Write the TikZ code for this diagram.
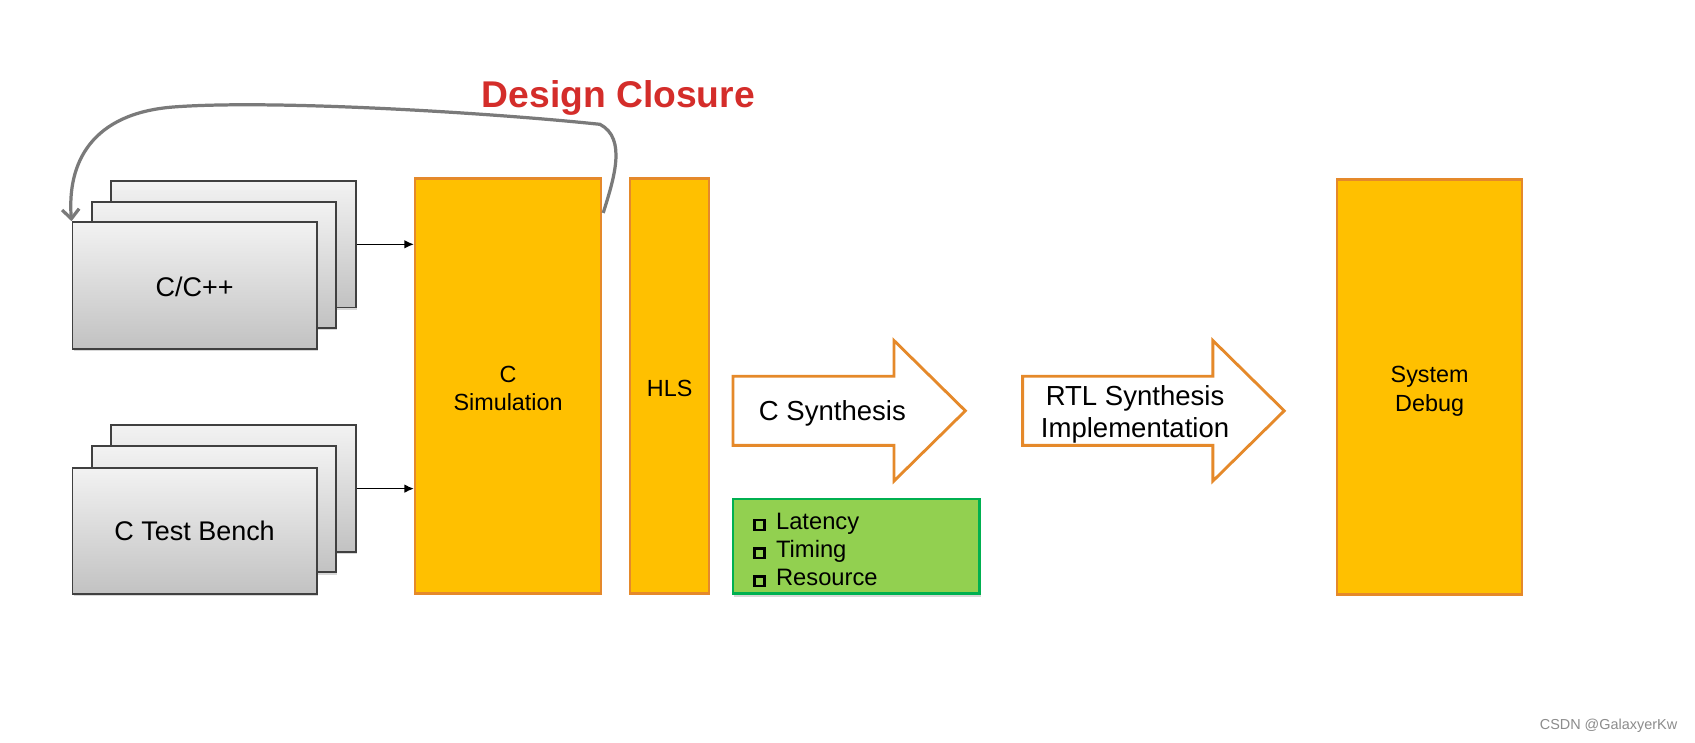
\documentclass[tikz,border=0pt]{standalone}
\usepackage{fontspec}
\setmainfont{Liberation Sans}
\usetikzlibrary{arrows.meta, shadows, calc}

\definecolor{stagefill}{HTML}{FFC000}
\definecolor{stageedge}{HTML}{E5892A}
\definecolor{metricfill}{HTML}{92D050}
\definecolor{metricedge}{HTML}{00B050}
\definecolor{closurered}{HTML}{D42D2A}
\definecolor{loopgray}{HTML}{7A7A7A}

\newcommand{\sqbox}{\raisebox{0.3pt}{\setlength{\fboxsep}{0pt}\setlength{\fboxrule}{1.3pt}\fbox{\rule{0pt}{3.8pt}\hspace{3.8pt}}}\hspace{5.5pt}}

\tikzset{
  card/.style={draw=black!75, line width=1pt, top color=black!5, bottom color=black!24,
    minimum width=4.52cm, minimum height=2.34cm, inner sep=0pt,
    drop shadow={shadow xshift=0.6pt, shadow yshift=-1.2pt, opacity=0.3},
    font=\fontsize{14.2}{17}\selectfont},
  stage/.style={draw=stageedge, line width=1.2pt, fill=stagefill, inner sep=0pt,
    minimum height=7.68cm, align=center, font=\fontsize{12.3}{15.2}\selectfont},
  flow/.style={draw=stageedge, line width=1.5pt, fill=white, line join=miter},
  flowtext/.style={align=center, font=\fontsize{14.5}{17}\selectfont},
  feed/.style={-{Latex[length=5pt, width=4.5pt]}, line width=0.8pt},
}

\begin{document}
\begin{tikzpicture}[x=0.02cm, y=-0.02cm]
\useasboundingbox[fill=white] (0,0) rectangle (1568,687);

% source and test bench stacks
\node[card] (cpp3) at (216,226) {};
\node[card] (cpp2) at (198,245) {};
\node[card] (cpp1) at (180,264) {\rule{0pt}{12pt}C/C++};
\node[card] (tb3) at (216,452) {};
\node[card] (tb2) at (198,471) {};
\node[card] (tb1) at (180,491) {C Test Bench};

\node[stage, minimum width=3.44cm] (sim) at (470,357) {\rule{0pt}{11.2pt}C\\Simulation};
\node[stage, minimum width=1.46cm] (hls) at (619.5,357) {\rule{0pt}{11pt}HLS};
\node[stage, minimum width=3.42cm] (debug) at (1322.5,358) {\rule{0pt}{13.3pt}System\\Debug};

\draw[feed] (cpp3.east) -- (cpp3.east -| sim.west);
\draw[feed] (tb3.east) -- (tb3.east -| sim.west);

% design closure loop
\coordinate (loopstart) at (558,197);
\draw[loopgray, line width=1.7pt, -{Straight Barb[length=5pt, width=9pt]}]
  (loopstart) .. controls (568,165) and (580,128) .. (555,115)
  .. controls (450,104) and (250,92) .. (160,99)
  .. controls (85,105) and (62,150) .. (cpp1.north west);
\node[font=\fontsize{19.6}{22}\selectfont\bfseries, text=closurered] (closure) at (572,91) {Design Closure};

% synthesis arrows
\draw[flow] (678,348) -- (827,348) -- (827,315) -- (893,380) -- (827,445) -- (827,412) -- (678,412) -- cycle;
\node[flowtext] (csyn) at (770,382) {C Synthesis};
\draw[flow] (946,348) -- (1122,348) -- (1122,315) -- (1188,380) -- (1122,445) -- (1122,412) -- (946,412) -- cycle;
\node[flowtext] (rtl) at (1050,383) {RTL Synthesis\\Implementation};

\node[draw=metricedge, line width=1.3pt, fill=metricfill, minimum width=4.56cm, minimum height=1.74cm,
  inner xsep=0.32cm, text width=3.8cm, align=left, font=\fontsize{12.5}{14.8}\selectfont,
  drop shadow={shadow xshift=0.6pt, shadow yshift=-1.5pt, opacity=0.3}] (metrics) at (792,505.5)
  {\rule{0pt}{12.5pt}\sqbox Latency\\\sqbox Timing\\\sqbox Resource};

\node[text=black!45, font=\fontsize{7.6}{9}\selectfont] (mark) at (1488,671) {CSDN @GalaxyerKw};
\end{tikzpicture}
\end{document}
